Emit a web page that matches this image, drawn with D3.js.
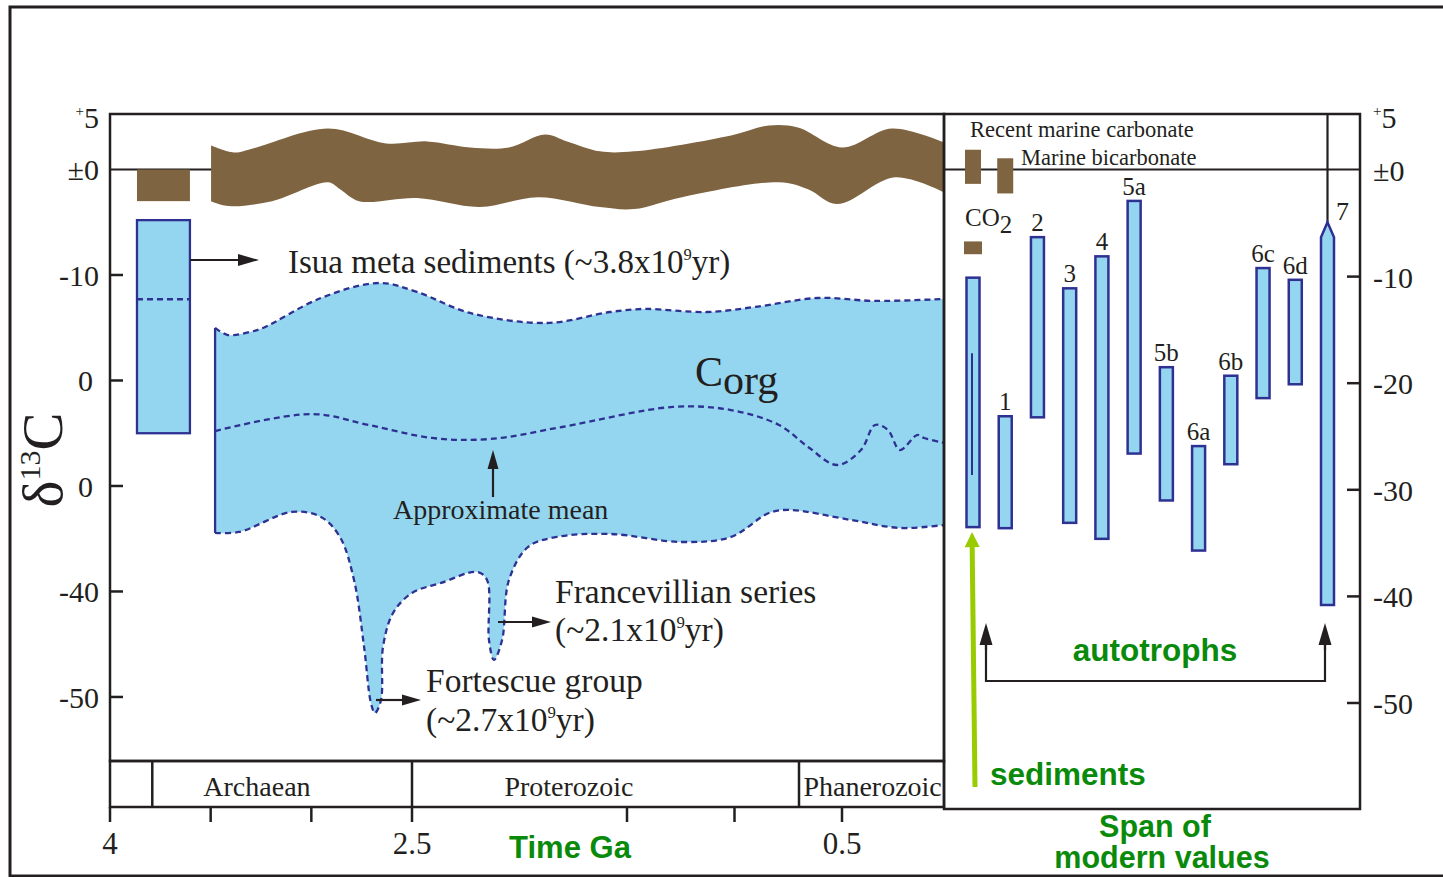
<!DOCTYPE html>
<html><head><meta charset="utf-8">
<script src="https://cdn.jsdelivr.net/npm/d3@7"></script>
<style>body{margin:0;background:#fff}svg{display:block}</style>
</head><body>
<svg id="c" width="1443" height="877"></svg>
<script>
// ---------------- DATA ----------------
// delta13C axis
const valueTicks = [5, 0, -10, -20, -30, -40, -50];
const leftTickLabels = ["5", "±0", "-10", "0", "0", "-40", "-50"];
const rightTickLabels = ["5", "±0", "-10", "-20", "-30", "-40", "-50"];
// time axis (Ga)
const timeTicks = [4, 3.5, 3, 2.5, 1.5, 1, 0.5];
const timeTickLabels = ["4", "", "", "2.5", "", "", "0.5"];
const eraNames = ["", "Archaean", "Proterozoic", "Phanerozoic"];
const eraBounds = [4, 3.79, 2.5, 0.7, 0];
const eraLabelAt = [null, 3.27, 1.77, 0.35];

// Carbonate (brown) band [Ga, d13C]
const carbTop = [[3.498,2.28],[3.384,1.62],[3.290,2.00],[2.917,3.89],[2.629,2.47],[2.430,2.66],[2.230,2.09],[2.049,2.09],[1.881,3.32],[1.779,2.66],[1.626,1.72],[1.467,1.72],[1.016,3.23],[0.840,4.17],[0.705,3.98],[0.500,2.09],[0.255,3.89],[0.000,2.57]];
const carbBottom = [[3.498,-3.00],[3.409,-3.47],[3.195,-3.00],[2.917,-1.21],[2.857,-1.87],[2.763,-3.00],[2.477,-2.71],[2.184,-3.56],[1.914,-2.62],[1.626,-3.56],[1.467,-3.75],[1.244,-2.62],[0.793,-1.21],[0.658,-1.87],[0.523,-3.28],[0.240,-0.73],[0.000,-2.15]];
// Isua block [GaStart, GaEnd]
const isuaSpan = [3.866, 3.603];
const isuaCarb = [0, -3.0];
const isuaOrg = [-4.8, -25.0];
const isuaMean = -12.3;

// Organic carbon (Corg) envelope [Ga, d13C]
const corgTop = [[3.478,-15.02],[3.414,-15.69],[3.305,-15.40],[3.240,-15.02],[2.952,-12.18],[2.664,-10.76],[2.477,-11.61],[2.230,-13.60],[1.872,-14.55],[1.579,-13.51],[1.421,-13.22],[1.128,-13.51],[0.905,-13.03],[0.612,-12.18],[0.338,-12.46],[0.000,-12.27]];
const corgMean = [[3.478,-24.79],[3.002,-23.18],[2.714,-24.22],[2.407,-25.45],[2.137,-25.55],[1.802,-24.41],[1.286,-22.51],[1.016,-22.80],[0.793,-24.22],[0.658,-26.30],[0.523,-28.01],[0.407,-26.59],[0.338,-24.22],[0.275,-24.69],[0.216,-26.59],[0.132,-25.17],[0.098,-25.45],[0.000,-25.92]];
const corgBottom = [[3.478,-34.45],[3.359,-34.36],[3.096,-32.46],[2.952,-32.94],[2.858,-34.83],[2.788,-38.91],[2.738,-45.26],[2.704,-50.57],[2.684,-51.52],[2.654,-50.28],[2.644,-45.26],[2.594,-42.04],[2.500,-40.14],[2.365,-39.19],[2.198,-38.15],[2.151,-38.91],[2.142,-44.60],[2.119,-46.49],[2.081,-44.60],[2.049,-38.91],[1.960,-35.78],[1.826,-34.83],[1.579,-34.55],[1.244,-35.31],[1.016,-34.83],[0.840,-32.56],[0.747,-32.27],[0.456,-33.22],[0.216,-33.98],[0.000,-33.70]];

// Modern values (right panel)
const modernCats = ["sed", "1", "2", "3", "4", "5a", "5b", "6a", "6b", "6c", "6d", "7"];
const modernLabels = ["", "1", "2", "3", "4", "5a", "5b", "6a", "6b", "6c", "6d", "7"];
const modernTop = [-10.1, -23.1, -6.3, -11.1, -8.1, -2.9, -18.5, -25.9, -19.3, -9.2, -10.3, -4.9];
const modernBottom = [-33.5, -33.6, -23.2, -33.1, -34.6, -26.6, -31.0, -35.7, -27.6, -21.4, -20.1, -40.8];
const sedInner = [-17.2, -28.6];
const marineCarbonate = [1.9, -1.3];
const marineBicarbonate = [1.1, -2.2];
const co2Range = [-6.7, -7.9];

// ---------------- DRAWING ----------------
const svg = d3.select("#c");
const INK = "#231f20", BROWN = "#7e6441", BLUE = "#94d6f0", DBLUE = "#2e3192", GREEN = "#0a8a0a", LIME = "#99cc00";
const serif = "'Liberation Serif','Times New Roman',serif";
const sans = "'Liberation Sans',Arial,sans-serif";

const x = d3.scaleLinear().domain([4, 2.5, 0.5, 0]).range([110, 412, 842, 944]);
const y = d3.scaleLinear().domain([5.26, -56.07]).range([114, 761]);
const yR = d3.scaleLinear().domain([0, -50]).range([170, 703]);
const xm = d3.scalePoint().domain(modernCats).range([973, 1327.5]);

svg.append("rect").attr("width", 1443).attr("height", 877).attr("fill", "#fff");

const L = 110, R = 944, T = 114, B = 761;
svg.append("defs").append("clipPath").attr("id", "lp").append("rect")
  .attr("x", L).attr("y", T).attr("width", R - L).attr("height", B - T);

// zero line
svg.append("line").attr("x1", L).attr("x2", 1360).attr("y1", y(0)).attr("y2", y(0))
  .attr("stroke", INK).attr("stroke-width", 2.2);

const lp = svg.append("g").attr("clip-path", "url(#lp)");
const lineGen = d3.line().x(d => x(d[0])).y(d => y(d[1])).curve(d3.curveCatmullRom.alpha(0.5));
function bandPath(top, bottom) {
  const t = lineGen(top);
  const b = lineGen(bottom.slice().reverse());
  return t + "L" + b.slice(1) + "Z";
}
// carbonate band
lp.append("path").attr("d", bandPath(carbTop, carbBottom)).attr("fill", BROWN);
lp.append("rect").attr("x", x(isuaSpan[0])).attr("width", x(isuaSpan[1]) - x(isuaSpan[0]))
  .attr("y", y(isuaCarb[0])).attr("height", y(isuaCarb[1]) - y(isuaCarb[0])).attr("fill", BROWN);

// Corg envelope
lp.append("path").attr("d", bandPath(corgTop, corgBottom)).attr("fill", BLUE);
const dash = "6,4";
[corgTop, corgBottom, corgMean].forEach(d => {
  lp.append("path").attr("d", lineGen(d)).attr("fill", "none").attr("stroke", DBLUE)
    .attr("stroke-width", 2.3).attr("stroke-dasharray", dash);
});
lp.append("line").attr("x1", x(corgTop[0][0])).attr("x2", x(corgTop[0][0]))
  .attr("y1", y(corgTop[0][1])).attr("y2", y(corgBottom[0][1])).attr("stroke", DBLUE).attr("stroke-width", 2.3);

// Isua organic block
lp.append("rect").attr("x", x(isuaSpan[0])).attr("width", x(isuaSpan[1]) - x(isuaSpan[0]))
  .attr("y", y(isuaOrg[0])).attr("height", y(isuaOrg[1]) - y(isuaOrg[0]))
  .attr("fill", BLUE).attr("stroke", DBLUE).attr("stroke-width", 2.3);
lp.append("line").attr("x1", x(isuaSpan[0])).attr("x2", x(isuaSpan[1]))
  .attr("y1", y(isuaMean)).attr("y2", y(isuaMean)).attr("stroke", DBLUE)
  .attr("stroke-width", 2.3).attr("stroke-dasharray", dash);

// arrows helper
function arrow(g, x1, y1, x2, y2, color, w, hl, hw) {
  const dx = x2 - x1, dy = y2 - y1, len = Math.hypot(dx, dy), ux = dx / len, uy = dy / len;
  const bx = x2 - ux * hl, by = y2 - uy * hl;
  g.append("line").attr("x1", x1).attr("y1", y1).attr("x2", bx + ux).attr("y2", by + uy)
    .attr("stroke", color).attr("stroke-width", w);
  g.append("path").attr("d", `M${x2},${y2}L${bx - uy * hw / 2},${by + ux * hw / 2}L${bx + uy * hw / 2},${by - ux * hw / 2}Z`)
    .attr("fill", color);
}
const ann = svg.append("g");
arrow(ann, 190, 260, 259, 260, INK, 2.2, 21, 12);
arrow(ann, 493, 497, 493, 450, INK, 2.2, 19, 11);
arrow(ann, 498, 622, 551, 622, INK, 2.2, 19, 11);
arrow(ann, 376, 700, 421, 700, INK, 2.2, 19, 11);

function txt(g, t, px, py, size, opts = {}) {
  return g.append("text").attr("x", px).attr("y", py).attr("font-family", opts.family || serif)
    .attr("font-size", size).attr("fill", opts.fill || INK).attr("font-weight", opts.weight || "normal")
    .attr("text-anchor", opts.anchor || "start").text(t);
}
function withSup(g, base, sup, rest, px, py, size) {
  const t = g.append("text").attr("x", px).attr("y", py).attr("font-family", serif).attr("font-size", size).attr("fill", INK);
  t.append("tspan").text(base);
  t.append("tspan").attr("font-size", size * 0.5).attr("dy", -size * 0.38).text(sup);
  t.append("tspan").attr("dy", size * 0.38).text(rest);
  return t;
}
withSup(ann, "Isua meta sediments (~3.8x10", "9", "yr)", 288, 273, 33);
txt(ann, "Approximate mean", 393, 519, 28);
txt(ann, "Francevillian series", 555, 603, 33.5);
withSup(ann, "(~2.1x10", "9", "yr)", 555, 641, 33.5);
txt(ann, "Fortescue group", 426, 692, 33.5);
withSup(ann, "(~2.7x10", "9", "yr)", 426, 731, 33.5);
const corgT = ann.append("text").attr("x", 695).attr("y", 386).attr("font-family", serif).attr("fill", INK);
corgT.append("tspan").attr("font-size", 42).text("C");
corgT.append("tspan").attr("font-size", 42).attr("dy", 8).text("org");

// Frames
const fr = svg.append("g").attr("fill", "none").attr("stroke", INK).attr("stroke-width", 2.5);
fr.append("rect").attr("x", L).attr("y", T).attr("width", R - L).attr("height", B - T);
fr.append("rect").attr("x", L).attr("y", B).attr("width", R - L).attr("height", 807 - B);
fr.append("rect").attr("x", R).attr("y", T).attr("width", 1360 - R).attr("height", 809 - T);
svg.append("rect").attr("x", 10).attr("y", 7).attr("width", 1450).attr("height", 869)
  .attr("fill", "none").attr("stroke", INK).attr("stroke-width", 3);

// era separators and names
eraBounds.slice(1, -1).forEach(b => {
  fr.append("line").attr("x1", x(b)).attr("x2", x(b)).attr("y1", B).attr("y2", 807);
});
eraNames.forEach((n, i) => {
  if (!n) return;
  txt(svg, n, x(eraLabelAt[i]), 796, 28, { anchor: "middle" });
});

// time axis ticks
timeTicks.forEach((t, i) => {
  fr.append("line").attr("x1", x(t)).attr("x2", x(t)).attr("y1", 807).attr("y2", 822);
  if (timeTickLabels[i]) txt(svg, timeTickLabels[i], x(t), 854, 31, { anchor: "middle" });
});
txt(svg, "Time Ga", 570, 858, 31, { family: sans, weight: "bold", fill: GREEN, anchor: "middle" });

// left axis
valueTicks.forEach((v, i) => {
  if (v < 0) fr.append("line").attr("x1", L).attr("x2", L + 13).attr("y1", y(v)).attr("y2", y(v));
  const lab = leftTickLabels[i];
  const ax = (lab === "0") ? 93 : 99;
  const t = svg.append("text").attr("x", ax).attr("y", y(v) + 11).attr("font-family", serif)
    .attr("font-size", 30).attr("fill", INK).attr("text-anchor", "end");
  if (v > 0) { t.append("tspan").attr("font-size", 15).attr("dy", -12).text("+"); t.append("tspan").attr("dy", 12).text(lab); }
  else t.text(lab);
});
// right axis
valueTicks.forEach((v, i) => {
  if (v < 0) fr.append("line").attr("x1", 1347).attr("x2", 1360).attr("y1", yR(v)).attr("y2", yR(v));
  const t = svg.append("text").attr("x", 1373).attr("y", yR(v) + 11).attr("font-family", serif)
    .attr("font-size", 30).attr("fill", INK);
  if (v > 0) { t.append("tspan").attr("font-size", 15).attr("dy", -12).text("+"); t.append("tspan").attr("dy", 12).text(rightTickLabels[i]); }
  else t.text(rightTickLabels[i]);
});

// delta13C title
const yt = svg.append("text").attr("transform", "translate(62,460) rotate(-90)").attr("text-anchor", "middle")
  .attr("font-family", serif).attr("fill", INK);
yt.append("tspan").attr("font-size", 57).text("δ");
yt.append("tspan").attr("font-size", 30).attr("dy", -22).text("13");
yt.append("tspan").attr("font-size", 57).attr("dy", 22).text("C");

// Right panel
const rp = svg.append("g");
const bw = 13;
rp.append("line").attr("x1", xm("7")).attr("x2", xm("7")).attr("y1", T).attr("y2", yR(modernTop[11]))
  .attr("stroke", INK).attr("stroke-width", 2.2);
[[marineCarbonate, "sed"], [marineBicarbonate, "1"]].forEach(([r, c]) => {
  rp.append("rect").attr("x", xm(c) - 8).attr("width", 16).attr("y", yR(r[0])).attr("height", yR(r[1]) - yR(r[0])).attr("fill", BROWN);
});
rp.append("rect").attr("x", xm("sed") - 9).attr("width", 18).attr("y", yR(co2Range[0])).attr("height", yR(co2Range[1]) - yR(co2Range[0])).attr("fill", BROWN);
txt(rp, "Recent marine carbonate", 970, 137, 22.5);
txt(rp, "Marine bicarbonate", 1021, 165, 22.5);
const co2 = rp.append("text").attr("x", 965).attr("y", 226).attr("font-family", serif).attr("font-size", 25).attr("fill", INK);
co2.append("tspan").text("CO");
co2.append("tspan").attr("dy", 7).text("2");

modernCats.forEach((c, i) => {
  const cx = xm(c), t = yR(modernTop[i]), b = yR(modernBottom[i]);
  if (c === "7") {
    const sh = t + 15;
    rp.append("path").attr("d", `M${cx},${t}L${cx + bw / 2},${sh}L${cx + bw / 2},${b}L${cx - bw / 2},${b}L${cx - bw / 2},${sh}Z`)
      .attr("fill", BLUE).attr("stroke", DBLUE).attr("stroke-width", 2.5);
  } else {
    rp.append("rect").attr("x", cx - bw / 2).attr("width", bw).attr("y", t).attr("height", b - t)
      .attr("fill", BLUE).attr("stroke", DBLUE).attr("stroke-width", 2.5);
  }
  if (modernLabels[i]) {
    if (c === "7") txt(rp, modernLabels[i], cx + 15, t - 2, 26, { anchor: "middle" });
    else txt(rp, modernLabels[i], cx, t - 6, 25, { anchor: "middle" });
  }
});
rp.append("line").attr("x1", xm("sed") - 1).attr("x2", xm("sed") - 1).attr("y1", yR(sedInner[0])).attr("y2", yR(sedInner[1]))
  .attr("stroke", DBLUE).attr("stroke-width", 2);

// sediments green arrow
arrow(rp, 975, 787, xm("sed") - 1, yR(modernBottom[0]) + 5, LIME, 5, 15, 15);
txt(rp, "sediments", 990, 785, 31.5, { family: sans, weight: "bold", fill: GREEN });
// autotroph bracket
const bl = 986, br = 1325, by = 681;
rp.append("path").attr("d", `M${bl},${643}L${bl},${by}L${br},${by}L${br},${643}`).attr("fill", "none").attr("stroke", INK).attr("stroke-width", 2.2);
arrow(rp, bl, 650, bl, 623, INK, 2.2, 22, 13);
arrow(rp, br, 650, br, 623, INK, 2.2, 22, 13);
txt(rp, "autotrophs", 1155, 661, 31.5, { family: sans, weight: "bold", fill: GREEN, anchor: "middle" });
txt(svg, "Span of", 1155, 837, 30.5, { family: sans, weight: "bold", fill: GREEN, anchor: "middle" });
txt(svg, "modern values", 1162, 868, 30.5, { family: sans, weight: "bold", fill: GREEN, anchor: "middle" });
</script>
</body></html>
